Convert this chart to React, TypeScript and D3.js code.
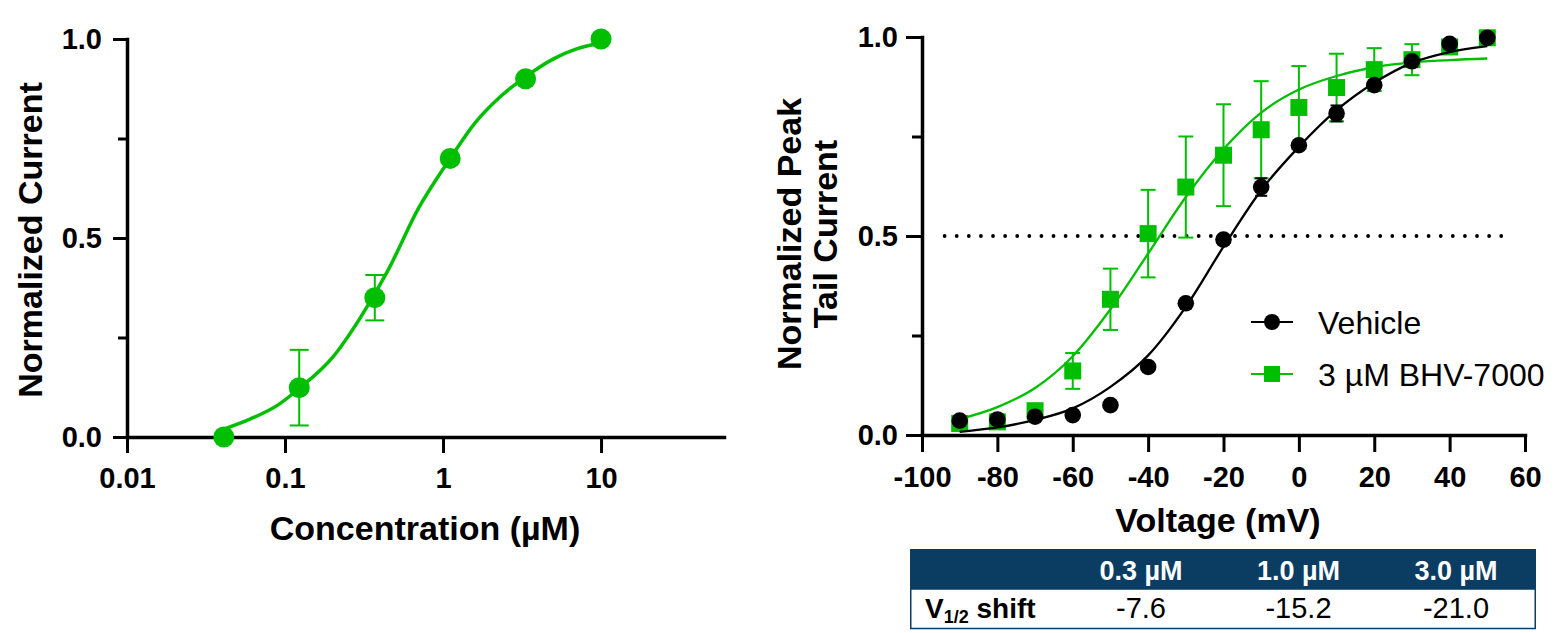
import React, { useEffect, useRef } from 'react';
import * as d3 from 'd3';

// left panel - concentration response
const concentrations = [0.041, 0.123, 0.37, 1.11, 3.33, 10];
const normCurrent = [0.0, 0.124, 0.35, 0.70, 0.90, 1.0];
const normCurrentErr = [0, 0.095, 0.057, 0, 0, 0];
const fitConc = [0.041, 0.06, 0.09, 0.123, 0.2, 0.3, 0.45, 0.7, 1.11, 1.6, 2.3, 3.33, 5, 7, 10];
const fitCurrent = [0.02, 0.045, 0.08, 0.122, 0.2, 0.3, 0.42, 0.575, 0.70, 0.79, 0.855, 0.905, 0.95, 0.975, 0.99];
const concTicks = [0.01, 0.1, 1, 10];

// right panel - activation curves
const voltages = [-90, -80, -70, -60, -50, -40, -30, -20, -10, 0, 10, 20, 30, 40, 50];
const vehicle = [0.036, 0.039, 0.046, 0.05, 0.075, 0.171, 0.331, 0.491, 0.623, 0.728, 0.808, 0.879, 0.939, 0.983, 0.998];
const vehicleErr = [0, 0, 0, 0, 0, 0, 0, 0, 0.022, 0, 0.02, 0, 0, 0, 0];
const bhv = [0.029, 0.033, 0.061, 0.161, 0.341, 0.506, 0.623, 0.703, 0.767, 0.823, 0.873, 0.918, 0.943, 0.975, 0.998];
const bhvErr = [0, 0, 0, 0.045, 0.077, 0.11, 0.127, 0.128, 0.122, 0.104, 0.085, 0.054, 0.039, 0, 0];
const vehicleFit = [0.008, 0.019, 0.038, 0.067, 0.121, 0.2, 0.322, 0.473, 0.615, 0.724, 0.816, 0.885, 0.935, 0.962, 0.977];
const bhvFit = [0.04, 0.07, 0.118, 0.198, 0.316, 0.456, 0.598, 0.718, 0.81, 0.868, 0.902, 0.924, 0.936, 0.942, 0.946];
const voltTicks = [-100, -80, -60, -40, -20, 0, 20, 40, 60];
const yTicks = [0, 0.5, 1];
const yMinorTicks = [0.25, 0.75];
const legendLabels = ['Vehicle', '3 µM BHV-7000'];

// V1/2 shift table
const doses = ['0.3 µM', '1.0 µM', '3.0 µM'];
const halfShift = [-7.6, -15.2, -21.0];

const font = '"Liberation Sans", Arial, Helvetica, sans-serif';
const green = '#00bf00';
const navy = '#0b3d63';

function styleAxis(sel, size) {
  sel.select('.domain').attr('stroke', '#000').attr('stroke-width', 3.5).attr('stroke-linecap', 'square');
  sel.selectAll('.tick line').attr('stroke', '#000').attr('stroke-width', 3);
  sel.selectAll('.tick text')
    .attr('font-family', font)
    .attr('font-size', size)
    .attr('font-weight', 'bold')
    .attr('fill', '#000');
}

function errorBars(g, xs, ys, es, x, y, color, cap, width) {
  xs.forEach((v, i) => {
    if (!es[i]) return;
    const cx = x(v);
    const top = y(ys[i] + es[i]);
    const bot = y(ys[i] - es[i]);
    g.append('line').attr('x1', cx).attr('x2', cx).attr('y1', top).attr('y2', bot)
      .attr('stroke', color).attr('stroke-width', width);
    [top, bot].forEach(yy => {
      g.append('line').attr('x1', cx - cap / 2).attr('x2', cx + cap / 2).attr('y1', yy).attr('y2', yy)
        .attr('stroke', color).attr('stroke-width', width);
    });
  });
}

function App() {
  const svgRef = useRef(null);

  useEffect(() => {
    const svg = d3.select(svgRef.current);
    svg.selectAll('*').remove();

    // ---------- left panel ----------
    const xL = d3.scaleLog().domain([0.01, 60]).range([127, 724]);
    const yL = d3.scaleLinear().domain([0, 1]).range([437, 39]);
    const left = svg.append('g');

    left.append('g')
      .attr('transform', `translate(0,${yL(0)})`)
      .call(d3.axisBottom(xL).tickValues(concTicks).tickSize(16).tickSizeOuter(0).tickPadding(14)
        .tickFormat(d => String(d)))
      .call(s => styleAxis(s, 29));
    left.append('g')
      .attr('transform', `translate(${xL(0.01)},0)`)
      .call(d3.axisLeft(yL).tickValues(yTicks).tickSize(14).tickSizeOuter(0).tickPadding(11)
        .tickFormat(d3.format('.1f')))
      .call(s => styleAxis(s, 29));
    left.append('g')
      .attr('transform', `translate(${xL(0.01)},0)`)
      .call(d3.axisLeft(yL).tickValues(yMinorTicks).tickSize(9).tickFormat(() => ''))
      .call(s => { styleAxis(s, 29); s.select('.domain').remove(); });

    const lineL = d3.line().x(d => xL(d[0])).y(d => yL(d[1])).curve(d3.curveMonotoneX);
    left.append('path')
      .datum(fitConc.map((c, i) => [c, fitCurrent[i]]))
      .attr('d', lineL).attr('fill', 'none').attr('stroke', green).attr('stroke-width', 3.5);
    errorBars(left, concentrations, normCurrent, normCurrentErr, xL, yL, green, 19, 2);
    left.selectAll('circle.pt')
      .data(concentrations)
      .enter().append('circle')
      .attr('cx', d => xL(d))
      .attr('cy', (d, i) => yL(normCurrent[i]))
      .attr('r', 10.5)
      .attr('fill', green);

    left.append('text')
      .attr('transform', `translate(42,${yL(0.5) + 2}) rotate(-90)`)
      .attr('text-anchor', 'middle')
      .attr('font-family', font).attr('font-weight', 'bold').attr('font-size', 34)
      .text('Normalized Current');
    left.append('text')
      .attr('x', 425).attr('y', 540)
      .attr('text-anchor', 'middle')
      .attr('font-family', font).attr('font-weight', 'bold').attr('font-size', 34)
      .text('Concentration (µM)');

    // ---------- right panel ----------
    const xR = d3.scaleLinear().domain([-100, 60]).range([922, 1525]);
    const yR = d3.scaleLinear().domain([0, 1]).range([435, 37]);
    const right = svg.append('g');

    right.append('g')
      .attr('transform', `translate(0,${yR(0)})`)
      .call(d3.axisBottom(xR).tickValues(voltTicks).tickSize(17).tickSizeOuter(0).tickPadding(14)
        .tickFormat(d => String(d)))
      .call(s => styleAxis(s, 29));
    right.append('g')
      .attr('transform', `translate(${xR(-100)},0)`)
      .call(d3.axisLeft(yR).tickValues(yTicks).tickSize(16).tickSizeOuter(0).tickPadding(8)
        .tickFormat(d3.format('.1f')))
      .call(s => styleAxis(s, 29));
    right.append('g')
      .attr('transform', `translate(${xR(-100)},0)`)
      .call(d3.axisLeft(yR).tickValues(yMinorTicks).tickSize(10).tickFormat(() => ''))
      .call(s => { styleAxis(s, 29); s.select('.domain').remove(); });

    // 50% reference line
    right.append('line')
      .attr('x1', xR(-94)).attr('x2', xR(56))
      .attr('y1', yR(0.5)).attr('y2', yR(0.5))
      .attr('stroke', '#000').attr('stroke-width', 3.8)
      .attr('stroke-linecap', 'round').attr('stroke-dasharray', '0 12.1');

    const lineR = d3.line().x(d => xR(d[0])).y(d => yR(d[1])).curve(d3.curveMonotoneX);

    // BHV-7000 (green squares)
    right.append('path')
      .datum(voltages.map((v, i) => [v, bhvFit[i]]))
      .attr('d', lineR).attr('fill', 'none').attr('stroke', green).attr('stroke-width', 2.3);
    errorBars(right, voltages, bhv, bhvErr, xR, yR, green, 15, 2);
    right.selectAll('rect.sq')
      .data(voltages)
      .enter().append('rect')
      .attr('x', d => xR(d) - 8.5)
      .attr('y', (d, i) => yR(bhv[i]) - 8.5)
      .attr('width', 17).attr('height', 17)
      .attr('fill', green);

    // vehicle (black circles)
    right.append('path')
      .datum(voltages.map((v, i) => [v, vehicleFit[i]]))
      .attr('d', lineR).attr('fill', 'none').attr('stroke', '#000').attr('stroke-width', 2.3);
    errorBars(right, voltages, vehicle, vehicleErr, xR, yR, '#000', 12, 2);
    right.selectAll('circle.pt')
      .data(voltages)
      .enter().append('circle')
      .attr('cx', d => xR(d))
      .attr('cy', (d, i) => yR(vehicle[i]))
      .attr('r', 8.3)
      .attr('fill', '#000');

    // legend
    const lg = right.append('g');
    [0, 1].forEach(i => {
      const cy = 322 + i * 52;
      const col = i === 0 ? '#000' : green;
      lg.append('line').attr('x1', 1251).attr('x2', 1293).attr('y1', cy).attr('y2', cy)
        .attr('stroke', col).attr('stroke-width', 2);
      if (i === 0) {
        lg.append('circle').attr('cx', 1272).attr('cy', cy).attr('r', 8).attr('fill', col);
      } else {
        lg.append('rect').attr('x', 1264).attr('y', cy - 8).attr('width', 16).attr('height', 16).attr('fill', col);
      }
      lg.append('text')
        .attr('x', 1318).attr('y', cy + 11.5)
        .attr('font-family', font).attr('font-size', 32).attr('fill', '#000')
        .text(legendLabels[i]);
    });

    right.append('text')
      .attr('transform', `translate(801,234) rotate(-90)`)
      .attr('text-anchor', 'middle')
      .attr('font-family', font).attr('font-weight', 'bold').attr('font-size', 34)
      .text('Normalized Peak');
    right.append('text')
      .attr('transform', `translate(837,234) rotate(-90)`)
      .attr('text-anchor', 'middle')
      .attr('font-family', font).attr('font-weight', 'bold').attr('font-size', 34)
      .text('Tail Current');
    right.append('text')
      .attr('x', 1218).attr('y', 532)
      .attr('text-anchor', 'middle')
      .attr('font-family', font).attr('font-weight', 'bold').attr('font-size', 34)
      .text('Voltage (mV)');

    // ---------- table ----------
    const colX = d3.scalePoint().domain(doses).range([1141, 1456]);
    const tb = svg.append('g');
    tb.append('rect').attr('x', 910).attr('y', 549).attr('width', 626).attr('height', 40).attr('fill', navy);
    tb.append('rect').attr('x', 910.75).attr('y', 589).attr('width', 624.5).attr('height', 39.5)
      .attr('fill', '#fff').attr('stroke', navy).attr('stroke-width', 1.5);
    doses.forEach((d, i) => {
      tb.append('text')
        .attr('x', colX(d)).attr('y', 580)
        .attr('text-anchor', 'middle')
        .attr('font-family', font).attr('font-weight', 'bold').attr('font-size', 27).attr('fill', '#fff')
        .text(d);
      tb.append('text')
        .attr('x', colX(d)).attr('y', 618)
        .attr('text-anchor', 'middle')
        .attr('font-family', font).attr('font-size', 29).attr('fill', '#000')
        .text(halfShift[i].toFixed(1));
    });
    const lab = tb.append('text')
      .attr('x', 925).attr('y', 618)
      .attr('font-family', font).attr('font-weight', 'bold').attr('font-size', 28).attr('fill', '#000');
    lab.append('tspan').text('V');
    lab.append('tspan').attr('font-size', 18).attr('dy', 5).text('1/2');
    lab.append('tspan').attr('dy', -5).text(' shift');
  }, []);

  return (
    <svg
      ref={svgRef}
      width="1556"
      height="633"
      style={{ position: 'absolute', left: 0, top: 0, display: 'block', background: '#fff' }}
    ></svg>
  );
}

export default App;
